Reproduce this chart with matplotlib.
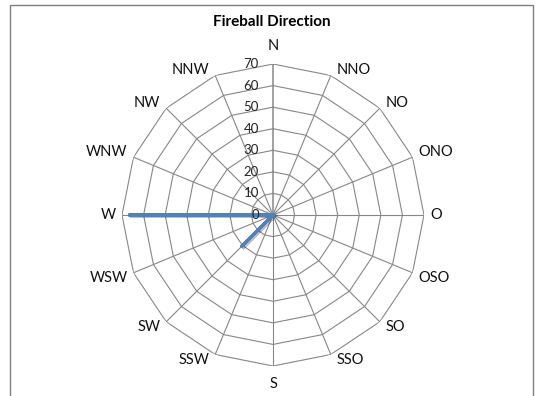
import numpy as np
import matplotlib
matplotlib.use("Agg")
import matplotlib.pyplot as plt
import matplotlib.patches as mpatches
import matplotlib.patheffects as pe

plt.rcParams['font.family'] = ['Lato', 'DejaVu Sans']

# Data: fireball counts per compass direction (German abbreviations)
directions = ['N', 'NNO', 'NO', 'ONO', 'O', 'OSO', 'SO', 'SSO',
              'S', 'SSW', 'SW', 'WSW', 'W', 'WNW', 'NW', 'NNW']
counts = [0, 0, 0, 0, 0, 0, 0, 0,
          0, 0, 21, 0, 67, 0, 0, 0]
ticks = [0, 10, 20, 30, 40, 50, 60, 70]
title = 'Fireball Direction'

W, H, DPI = 538, 396, 100
fig = plt.figure(figsize=(W / DPI, H / DPI), dpi=DPI)

# chart frame (bottom edge is cut off in the reference)
frame = mpatches.Rectangle((10 / W, -0.2), (533 - 10) / W, 1.2 - 5 / H,
                           transform=fig.transFigure, fill=False,
                           edgecolor='#7f7f7f', linewidth=1.0)
fig.patches.append(frame)

cx, cy, rad = 273, 215, 151
ax = fig.add_axes([(cx - rad) / W, (H - cy - rad) / H, 2 * rad / W, 2 * rad / H],
                  projection='polar')
ax.set_theta_zero_location('N')
ax.set_theta_direction(-1)
ax.set_ylim(0, ticks[-1])
ax.grid(False)
ax.spines['polar'].set_visible(False)
ax.set_xticks([])
ax.set_yticks([])
ax.patch.set_alpha(0)

n = len(directions)
theta = np.arange(n) * 2 * np.pi / n
theta_closed = np.append(theta, theta[0])

grid_col = '#878787'
# polygon gridlines
for t in ticks[1:]:
    ax.plot(theta_closed, [t] * (n + 1), color=grid_col, lw=0.8, zorder=1)
# spokes
for i, th in enumerate(theta):
    ax.plot([th, th], [0, ticks[-1]], color=grid_col,
            lw=1.1 if i == 0 else 0.8, zorder=1)

# series
vals = np.append(counts, counts[0])
ax.plot(theta_closed, vals, color='#4F81BD', lw=2.3, zorder=3,
        solid_joinstyle='miter',
        path_effects=[pe.SimpleLineShadow(offset=(1, -1), alpha=0.25),
                      pe.Normal()])

# value axis labels
for t in ticks:
    ax.annotate(str(t), xy=(0, t), xytext=(-14, 0), textcoords='offset pixels',
                ha='right', va='center', fontsize=9.5, color='#222222')

# category labels
for th, lab in zip(theta, directions):
    s, c = np.sin(th), np.cos(th)
    if abs(s) < 0.1:
        ha, dx, dy = 'center', 0, 18 * np.sign(c)
    else:
        ha = 'left' if s > 0 else 'right'
        dx = 6 * np.sign(s)
        dy = 5 * np.sign(c) if abs(c) > 0.2 else 0
    ax.annotate(lab, xy=(th, ticks[-1]), xytext=(dx, dy),
                textcoords='offset pixels', ha=ha, va='center',
                fontsize=10.5, color='#111111')

fig.text(272 / W, 1 - 22 / H, title, ha='center', va='center',
         fontsize=11, fontweight='bold')

fig.savefig('out.png', dpi=DPI)
